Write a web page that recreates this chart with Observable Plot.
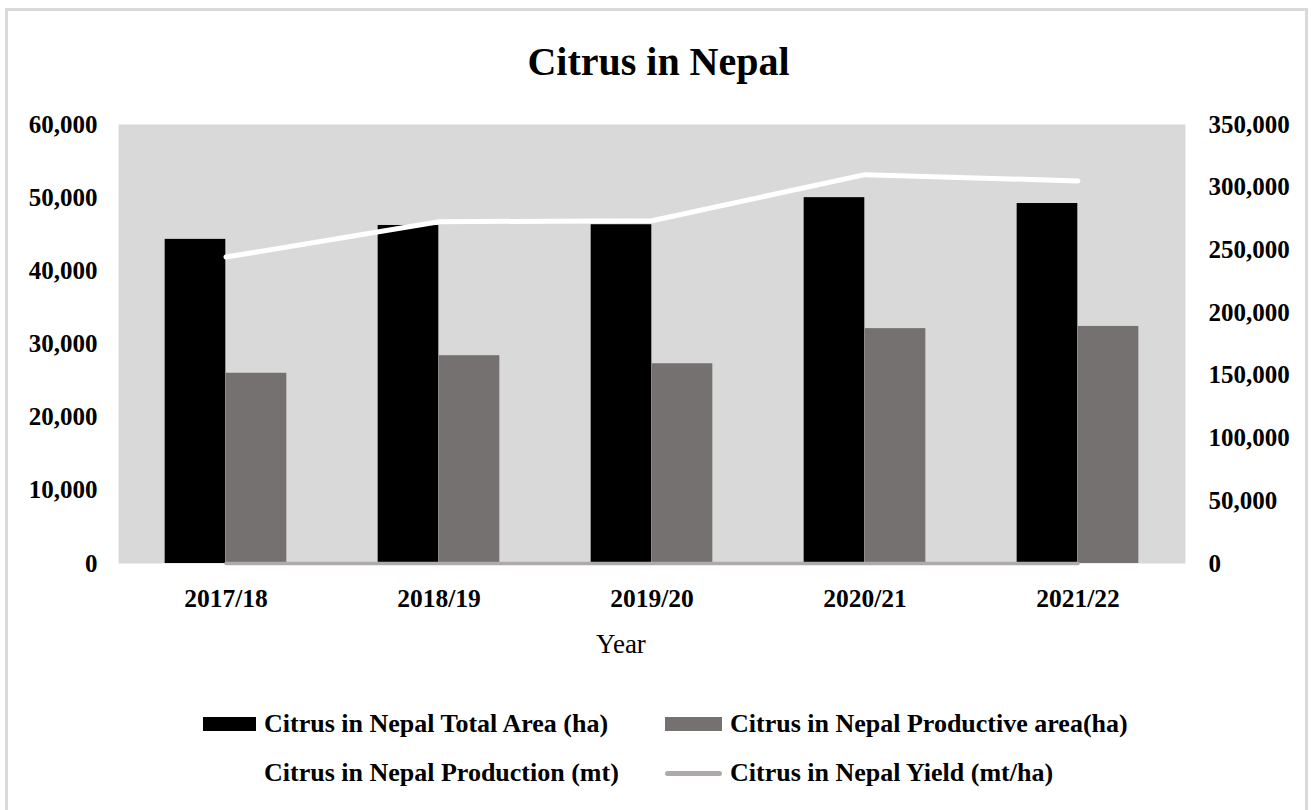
<!DOCTYPE html>
<html>
<head>
<meta charset="utf-8">
<script src="https://cdn.jsdelivr.net/npm/d3@7"></script>
<script src="https://cdn.jsdelivr.net/npm/@observablehq/plot@0.6"></script>
<style>
  html, body { margin: 0; padding: 0; background: #fff; }
  body { width: 1311px; height: 810px; position: relative; overflow: hidden; font-family: "Liberation Serif", "Times New Roman", serif; }
  .frame { position: absolute; left: 5px; top: 8px; width: 1303px; height: 900px; border: 3px solid #d9d9d9; box-sizing: border-box; }
  .title { position: absolute; left: 0; width: 1317px; top: 38px; text-align: center; font-weight: bold; font-size: 40px; line-height: 48px; color: #000; }
  #chart { position: absolute; left: 0; top: 100px; }
  .xlabel { position: absolute; left: 521px; width: 200px; top: 627px; text-align: center; font-size: 27px; line-height: 34px; color: #000; }
  .leg { position: absolute; font-weight: bold; font-size: 26px; line-height: 30px; white-space: nowrap; color: #000; }
  .sw { position: absolute; }
</style>
</head>
<body>
<div class="frame"></div>
<div class="title">Citrus in Nepal</div>
<div id="chart"></div>
<div class="xlabel">Year</div>
<div id="legend"></div>
<script>
// ---- data ----
const years = ["2017/18", "2018/19", "2019/20", "2020/21", "2021/22"];
const totalArea = [44300, 46200, 46300, 50000, 49200];        // ha (left axis)
const productiveArea = [26000, 28400, 27300, 32100, 32400];   // ha (left axis)
const production = [244300, 272500, 273300, 310000, 305000];  // mt (right axis)
const yieldVals = [9.4, 9.6, 10.0, 9.7, 9.4];                 // mt/ha (left axis, near zero)
const leftTicks = [0, 10000, 20000, 30000, 40000, 50000, 60000];
const rightTicks = [0, 50000, 100000, 150000, 200000, 250000, 300000, 350000];
const seriesNames = [
  "Citrus in Nepal Total Area (ha)",
  "Citrus in Nepal Productive area(ha)",
  "Citrus in Nepal Production (mt)",
  "Citrus in Nepal Yield (mt/ha)"
];
const colors = ["#000000", "#767171", "#ffffff", "#aeaaaa"];

const leftMax = 60000, rightMax = 350000;
const data = years.map((year, i) => ({
  year,
  total: totalArea[i],
  productive: productiveArea[i],
  production: production[i],
  yield: yieldVals[i]
}));

const W = 1311, H = 530, mL = 118, mR = 126, mT = 24, mB = 67;
const band = (W - mL - mR) / years.length;
const barW = band * 0.286;
const outer = (band - 2 * barW) / 2;
const fmt = d3.format(",");
const toLeft = v => v * leftMax / rightMax;

const chart = Plot.plot({
  width: W,
  height: H,
  marginLeft: mL,
  marginRight: mR,
  marginTop: mT,
  marginBottom: mB,
  style: { fontFamily: "'Liberation Serif', 'Times New Roman', serif", fontSize: "25px", fontWeight: "bold", color: "#000", background: "transparent", overflow: "visible" },
  x: { type: "band", domain: years, padding: 0, label: null },
  y: { domain: [0, leftMax], label: null },
  marks: [
    Plot.frame({ fill: "#d9d9d9", stroke: null }),
    Plot.barY(data, { x: "year", y: "total", fill: colors[0], insetLeft: outer, insetRight: band - outer - barW }),
    Plot.barY(data, { x: "year", y: "productive", fill: colors[1], insetLeft: outer + barW, insetRight: outer }),
    Plot.line(data, { x: "year", y: "yield", stroke: colors[3], strokeWidth: 3.5 }),
    Plot.line(data, { x: "year", y: d => toLeft(d.production), stroke: colors[2], strokeWidth: 5, strokeLinecap: "round" }),
    Plot.axisY(leftTicks, { anchor: "left", y: d => d, text: d => fmt(d), tickSize: 0, tickPadding: 21, label: null, fontSize: 25, fontWeight: "bold" }),
    Plot.axisY(rightTicks, { anchor: "right", y: d => toLeft(d), text: d => fmt(d), tickSize: 0, tickPadding: 23, label: null, fontSize: 25, fontWeight: "bold" }),
    Plot.axisX(years, { anchor: "bottom", tickSize: 0, tickPadding: 25, label: null, fontSize: 25.5, fontWeight: "bold" })
  ]
});
document.getElementById("chart").appendChild(chart);

// ---- legend ----
const legend = document.getElementById("legend");
const legendItems = [
  { name: seriesNames[0], color: colors[0], kind: "rect", x: 203, y: 724 },
  { name: seriesNames[1], color: colors[1], kind: "rect", x: 665, y: 724 },
  { name: seriesNames[2], color: colors[2], kind: "line", x: 203, y: 773 },
  { name: seriesNames[3], color: colors[3], kind: "line", x: 665, y: 773 }
];
legendItems.forEach(it => {
  const sw = document.createElement("div");
  sw.className = "sw";
  const swW = it.x < 400 ? 53 : 57;
  sw.style.left = it.x + "px";
  sw.style.width = swW + "px";
  if (it.kind === "rect") {
    sw.style.top = (it.y - 7) + "px";
    sw.style.height = "14px";
  } else {
    sw.style.top = (it.y - 2.5) + "px";
    sw.style.height = "5px";
    sw.style.borderRadius = "2.5px";
  }
  sw.style.background = it.color;
  legend.appendChild(sw);
  const t = document.createElement("div");
  t.className = "leg";
  t.textContent = it.name;
  t.style.left = (it.x + swW + 8) + "px";
  t.style.top = (it.y - 15) + "px";
  legend.appendChild(t);
});
</script>
</body>
</html>
